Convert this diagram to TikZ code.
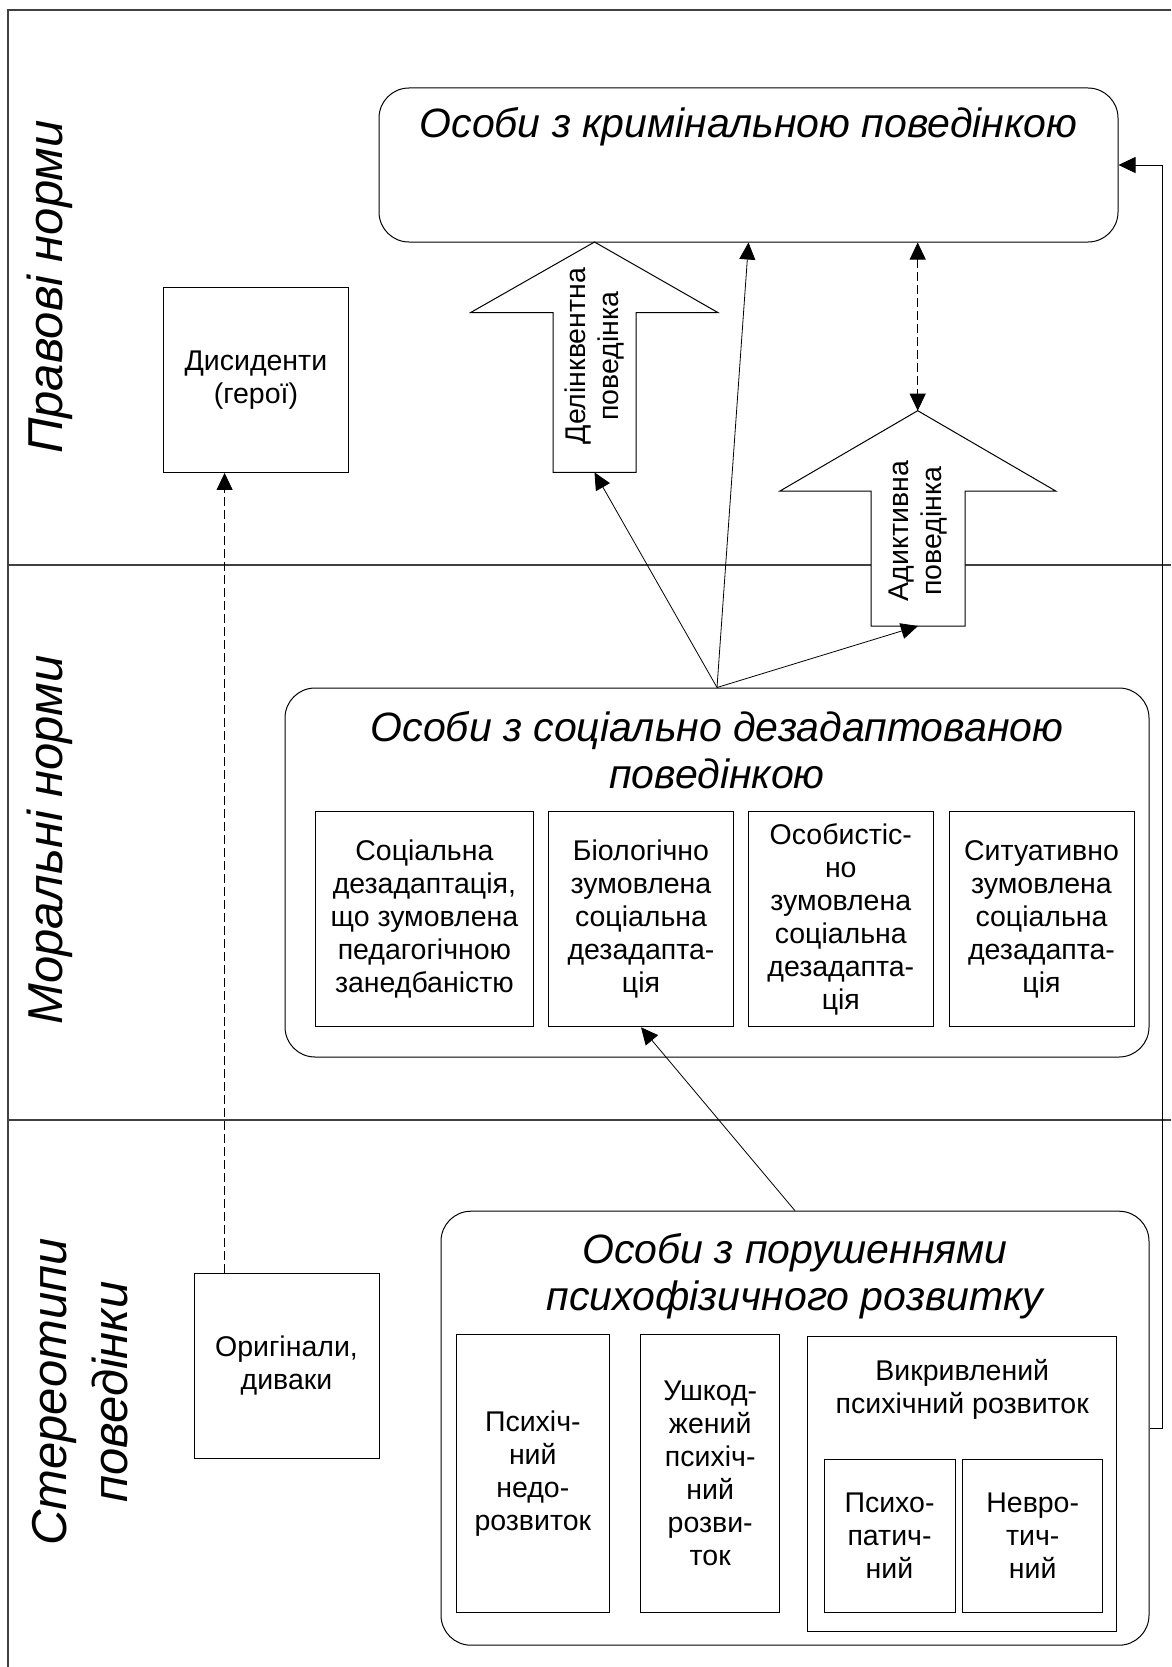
\documentclass[tikz,border=0pt]{standalone}
\usepackage{fontspec}
\setmainfont{Liberation Sans}
\usepackage{tikz}
\usetikzlibrary{arrows.meta}

\newcommand{\boxfont}{\fontsize{28.5}{33}\selectfont}
\newcommand{\headfont}{\fontsize{41}{47}\selectfont\itshape}
\newcommand{\normfont}{\fontsize{49}{61}\selectfont\itshape}

\begin{document}
\begin{tikzpicture}[x=1pt, y=-1pt,
  >={Triangle[length=17pt,width=16pt]},
  plainbox/.style={draw, line width=1pt, inner sep=0pt, align=center, font=\boxfont},
  roundbox/.style={draw, line width=1pt, rounded corners=30pt, inner sep=0pt},
  frameline/.style={line width=1.2pt, black!75},
  conn/.style={line width=0.8pt, ->},
  dashconn/.style={conn, dash pattern=on 9pt off 4pt},
  blockarrow/.style={draw, line width=1pt, fill=white},
  normlabel/.style={rotate=90, align=center, font=\normfont},
  headtext/.style={align=center, font=\headfont}]

\useasboundingbox (0,0) rectangle (1171,1667);

% frame and bands
\draw[frameline] (1171,10) -- (8,10) -- (8,1667);
\draw[frameline] (8,565) -- (1171,565);
\draw[frameline] (8,1120) -- (1171,1120);

\node[normlabel] (pravo) at (50,287) {Правові норми};
\node[normlabel] (moral) at (50,840) {Моральні норми};
\node[normlabel] (stereo) at (80.5,1392) {Стереотипи\\поведінки};

% block arrows
{
\draw[blockarrow] (553,472.4) -- (553,312.5) -- (470.7,312.5) -- (594.5,242)
  -- (717.8,312.5) -- (636,312.5) -- (636,472.4) -- cycle;
\node[rotate=90, align=center, font=\boxfont] (delinq) at (594.5,356) {Делінквентна\\поведінка};
\coordinate (delbase) at (594.5,472.4);

\draw[blockarrow] (871,626) -- (871,491) -- (780,491) -- (917.7,410.7)
  -- (1055.7,491) -- (965,491) -- (965,626) -- cycle;
\node[rotate=90, align=center, font=\boxfont] (addict) at (918,531) {Адиктивна\\поведінка};
\coordinate (addbase) at (918,626);
\coordinate (addtip) at (917.7,410.7);
}

% criminal behaviour
\node[roundbox, minimum width=739pt, minimum height=154pt] (crim) at (748.5,165) {};
\node[headtext] (crimhead) at (748.5,127) {Особи з кримінальною поведінкою};

\node[plainbox, minimum width=185pt, minimum height=184.5pt] (dissid) at (255.9,380.2) {Дисиденти\\(герої)};
\node[plainbox, minimum width=185pt, minimum height=185pt] (orig) at (286.5,1365.5) {Оригінали,\\диваки};
\coordinate (origtop) at (224.6,1273);

% social disadaptation
\node[roundbox, minimum width=864pt, minimum height=369pt] (social) at (717,872.5) {};
\node[headtext] (socialhead) at (717,750) {Особи з соціально дезадаптованою\\поведінкою};

\node[plainbox, minimum width=217.3pt, minimum height=215pt] (soc1) at (424.4,919.3)
  {Соціальна\\дезадаптація,\\що зумовлена\\педагогічною\\занедбаністю};
\node[plainbox, minimum width=185pt, minimum height=215pt] (soc2) at (641,919.3)
  {Біологічно\\зумовлена\\соціальна\\дезадапта-\\ція};
\node[plainbox, minimum width=185pt, minimum height=215pt] (soc3) at (840.8,919.3)
  {Особистіс-\\но\\зумовлена\\соціальна\\дезадапта-\\ція};
\node[plainbox, minimum width=185pt, minimum height=215pt] (soc4) at (1041.5,919.3)
  {Ситуативно\\зумовлена\\соціальна\\дезадапта-\\ція};

% psychophysical development
\node[roundbox, minimum width=708pt, minimum height=434pt] (psycho) at (795,1428.2) {};
\node[headtext] (psychohead) at (795,1276) {Особи з порушеннями\\психофізичного розвитку};

\node[plainbox, minimum width=153.5pt, minimum height=277.4pt] (dev1) at (532.8,1473.3)
  {Психіч-\\ний\\недо-\\розвиток};
\node[plainbox, minimum width=138.5pt, minimum height=277.4pt] (dev2) at (710.2,1473.3)
  {Ушкод-\\жений\\психіч-\\ний\\розви-\\ток};
\node[plainbox, minimum width=308.5pt, minimum height=295pt] (dev3) at (962.2,1483.5) {};
\node[align=center, font=\boxfont] (dev3head) at (962.2,1389) {Викривлений\\психічний розвиток};
\node[plainbox, minimum width=131pt, minimum height=153pt] (dev3a) at (889.5,1535.5)
  {Психо-\\патич-\\ний};
\node[plainbox, minimum width=140.5pt, minimum height=153pt] (dev3b) at (1032.7,1535.5)
  {Невро-\\тич-\\ний};

% connectors
\draw[conn] (social.north) -- (delbase);
\draw[conn] (social.north) -- (crim.south);
\draw[conn] (social.north) -- (addbase);
\draw[dashconn, <->] (crim.south -| addtip) -- (addtip);
\draw[dashconn] (origtop) -- (origtop |- dissid.south);
\draw[conn] (psycho.north) -- (soc2.south);
\draw[conn] (psycho.east) -- ++(13,0) |- (crim.east);

\end{tikzpicture}
\end{document}
